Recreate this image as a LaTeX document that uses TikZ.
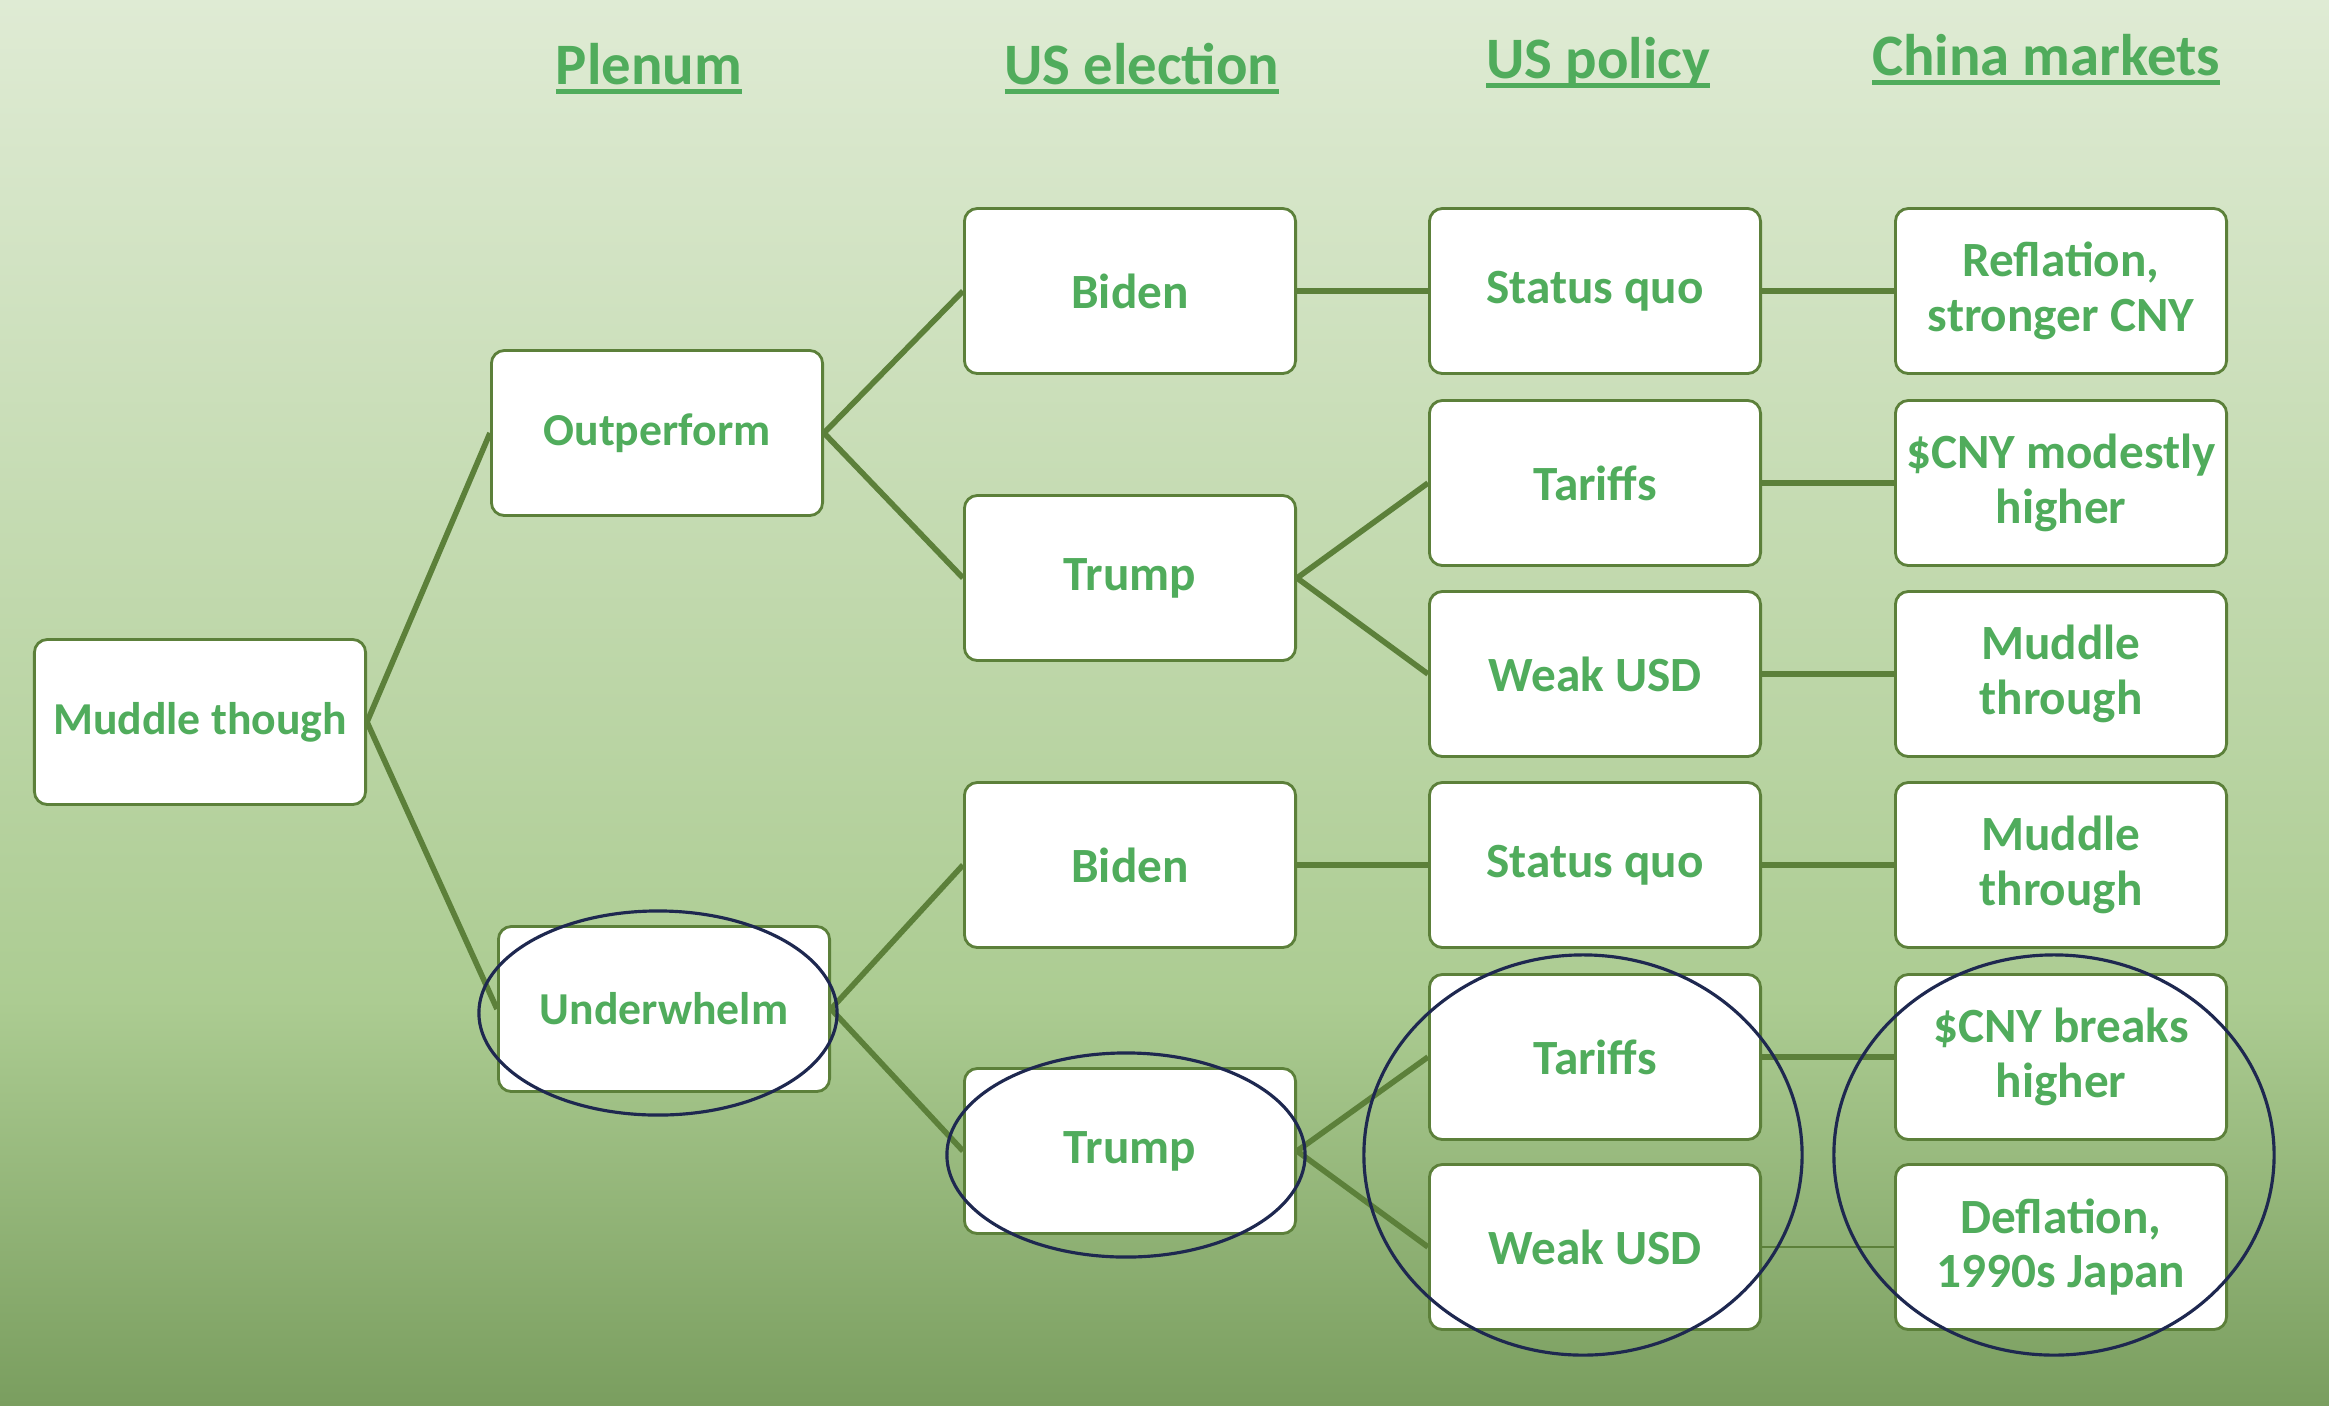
\documentclass[tikz,border=0pt]{standalone}
\usepackage{fontspec}
\setmainfont{Carlito}
\newcommand{\hdrul}[1]{\sbox0{#1}\rlap{\usebox0}\rule[-2.9pt]{\wd0}{1.4pt}}
\definecolor{labgreen}{RGB}{80,172,92}
\definecolor{boxline}{RGB}{92,128,58}
\definecolor{ringblue}{RGB}{30,40,80}
\definecolor{bgtop}{RGB}{223,235,212}
\definecolor{bgmid}{RGB}{172,204,146}
\definecolor{bgbot}{RGB}{122,158,95}

\begin{document}
\begin{tikzpicture}[x=0.01cm, y=-0.01cm,
  box/.style={draw=boxline, line width=0.8pt, fill=white, rounded corners=0.13cm,
    minimum width=3.31cm, minimum height=1.65cm, inner sep=0pt, align=center,
    text=labgreen, font=\fontsize{13}{15.5}\selectfont\bfseries},
  bigbox/.style={box, font=\fontsize{14}{15.5}\selectfont\bfseries},
  head/.style={text=labgreen, font=\fontsize{16.7}{20}\selectfont\bfseries, inner sep=0pt, anchor=base},
  link/.style={draw=boxline, line width=1.6pt},
  ring/.style={draw=ringblue, line width=0.9pt}]
\shade[top color=bgtop, bottom color=bgmid] (0,0) rectangle (2329,1000);
\shade[top color=bgmid, bottom color=bgbot] (0,1000) rectangle (2329,1405);
\useasboundingbox (0,0) rectangle (2329,1405);

\node[head] (hplenum) at (649,84) {\hdrul{Plenum}};
\node[head] (helection) at (1142,84) {\hdrul{US election}};
\node[head] (hpolicy) at (1598,78) {\hdrul{US policy}};
\node[head] (hmarkets) at (2046,75) {\hdrul{China markets}};

\node[box] (muddle) at (200,722) {Muddle though};
\node[box] (outp) at (657,433) {Outperform};
\node[box] (underw) at (664,1009) {Underwhelm};
\node[bigbox] (biden1) at (1130,291) {Biden};
\node[bigbox] (trump1) at (1130,578) {Trump};
\node[bigbox] (biden2) at (1130,865) {Biden};
\node[bigbox] (trump2) at (1130,1151) {Trump};
\node[bigbox] (quo1) at (1595,291) {Status quo};
\node[bigbox] (tariffs1) at (1595,483) {Tariffs};
\node[bigbox] (weak1) at (1595,674) {Weak USD};
\node[bigbox] (quo2) at (1595,865) {Status quo};
\node[bigbox] (tariffs2) at (1595,1057) {Tariffs};
\node[bigbox] (weak2) at (1595,1247) {Weak USD};
\node[bigbox] (reflation) at (2061,291) {Reflation,\\stronger CNY};
\node[bigbox] (modest) at (2061,483) {\$CNY modestly\\higher};
\node[bigbox] (through1) at (2061,674) {Muddle\\through};
\node[bigbox] (through2) at (2061,865) {Muddle\\through};
\node[bigbox] (breaks) at (2061,1057) {\$CNY breaks\\higher};
\node[bigbox] (deflation) at (2061,1247) {Deflation,\\1990s Japan};

\draw[link] (muddle.east) -- (outp.west);
\draw[link] (muddle.east) -- (underw.west);
\draw[link] (outp.east) -- (biden1.west);
\draw[link] (outp.east) -- (trump1.west);
\draw[link] (underw.east) -- (biden2.west);
\draw[link] (underw.east) -- (trump2.west);
\draw[link] (biden1.east) -- (quo1.west);
\draw[link] (trump1.east) -- (tariffs1.west);
\draw[link] (trump1.east) -- (weak1.west);
\draw[link] (biden2.east) -- (quo2.west);
\draw[link] (trump2.east) -- (tariffs2.west);
\draw[link] (trump2.east) -- (weak2.west);
\draw[link] (quo1.east) -- (reflation.west);
\draw[link] (tariffs1.east) -- (modest.west);
\draw[link] (weak1.east) -- (through1.west);
\draw[link] (quo2.east) -- (through2.west);
\draw[link] (tariffs2.east) -- (breaks.west);
\draw[draw=boxline, line width=0.7pt] (weak2.east) -- (deflation.west);

\draw[ring] (658,1013) ellipse [x radius=1.79cm, y radius=1.02cm];
\draw[ring] (1126,1155) ellipse [x radius=1.79cm, y radius=1.02cm];
\draw[ring] (1583,1155) ellipse [x radius=2.19cm, y radius=2.0cm];
\draw[ring] (2054,1155) ellipse [x radius=2.2cm, y radius=2.0cm];
\end{tikzpicture}
\end{document}
